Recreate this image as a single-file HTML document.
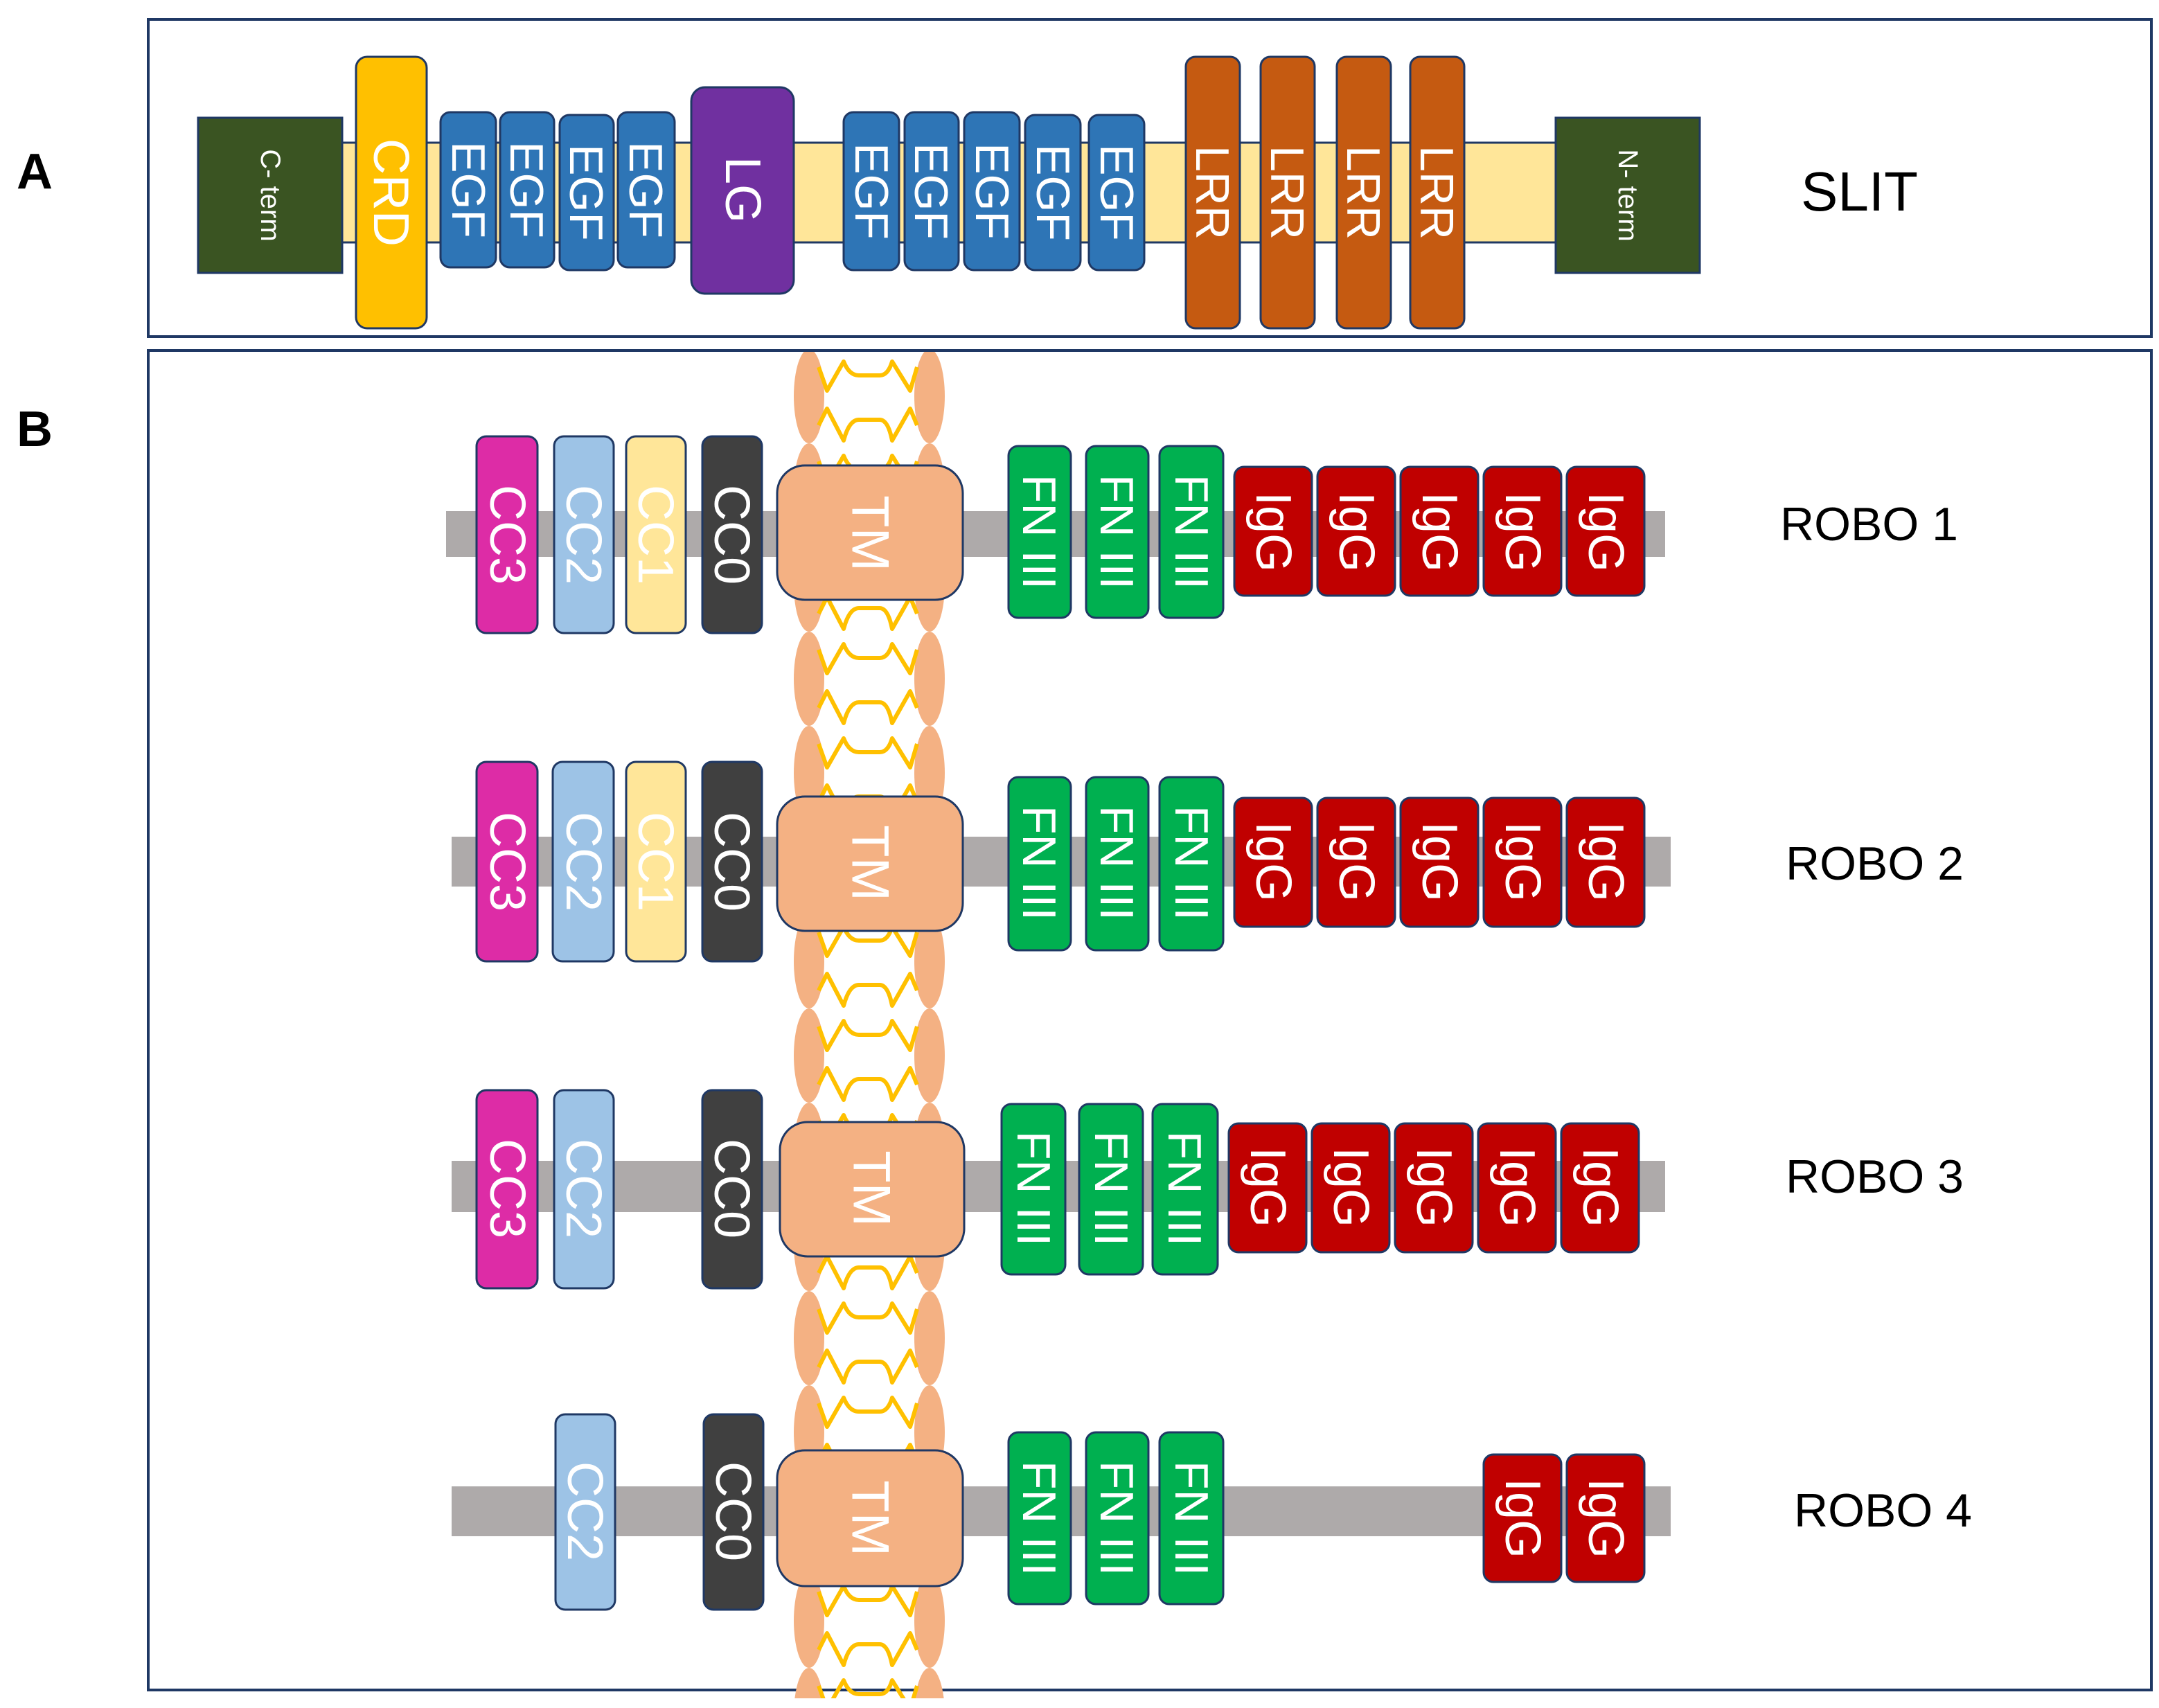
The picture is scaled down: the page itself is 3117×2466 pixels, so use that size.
<!DOCTYPE html>
<html><head><meta charset="utf-8"><style>
html,body{margin:0;padding:0;background:#fff;}
svg{display:block;}
text{font-family:"Liberation Sans",sans-serif;}
.w{fill:#fff;text-anchor:middle;dominant-baseline:central;}
</style></head><body>
<svg width="3117" height="2466" viewBox="0 0 1558.5 1233" xmlns="http://www.w3.org/2000/svg">
<defs>
<clipPath id="cp"><rect x="560" y="254" width="140" height="972"/></clipPath>
<g id="mem">
<ellipse cx="584" cy="34" rx="11" ry="34" fill="#f4b183"/>
<ellipse cx="671" cy="34" rx="11" ry="34" fill="#f4b183"/>
<path d="M591,13 L597,30 L609,9 Q613,19 620,19 L635,19 Q641,19 644,9 L657,30 L662,13" fill="none" stroke="#ffc000" stroke-width="3" stroke-linejoin="round"/>
<path d="M591,55 L597,43 L609,66 Q613,51 620,51 L635,51 Q641,51 644,66 L657,43 L662,55" fill="none" stroke="#ffc000" stroke-width="3" stroke-linejoin="round"/>
</g>
</defs>
<!-- Panel A -->
<text x="25" y="136" font-size="36" font-weight="bold" fill="#000" text-anchor="middle">A</text>
<rect x="107" y="14" width="1446" height="229" fill="#fff" stroke="#1f3864" stroke-width="2"/>
<rect x="247" y="103" width="876" height="72" fill="#ffe699" stroke="#1f3864" stroke-width="1.5"/>
<g stroke="#1f3864" stroke-width="1.5">
<rect x="143" y="85" width="104" height="112" fill="#3a5422"/>
<rect x="1123" y="85" width="104" height="112" fill="#3a5422"/>
<rect x="257" y="41" width="51" height="196" rx="8" fill="#ffc000"/>
<rect x="318" y="81" width="40" height="112" rx="7" fill="#2e75b6"/>
<rect x="361" y="81" width="39" height="112" rx="7" fill="#2e75b6"/>
<rect x="404" y="83" width="39" height="112" rx="7" fill="#2e75b6"/>
<rect x="446" y="81" width="41" height="112" rx="7" fill="#2e75b6"/>
<rect x="499" y="63" width="74" height="149" rx="10" fill="#7030a0"/>
<rect x="609" y="81" width="40" height="114" rx="7" fill="#2e75b6"/>
<rect x="653" y="81" width="39" height="114" rx="7" fill="#2e75b6"/>
<rect x="696" y="81" width="40" height="114" rx="7" fill="#2e75b6"/>
<rect x="740" y="83" width="40" height="112" rx="7" fill="#2e75b6"/>
<rect x="786" y="83" width="40" height="112" rx="7" fill="#2e75b6"/>
<rect x="856" y="41" width="39" height="196" rx="7" fill="#c55a11"/>
<rect x="910" y="41" width="39" height="196" rx="7" fill="#c55a11"/>
<rect x="965" y="41" width="39" height="196" rx="7" fill="#c55a11"/>
<rect x="1018" y="41" width="39" height="196" rx="7" fill="#c55a11"/>
</g>
<g class="w">
<text class="w" font-size="20" transform="translate(195,141) rotate(90)">C- term</text>
<text class="w" font-size="20" transform="translate(1175,141) rotate(90)">N- term</text>
<text class="w" font-size="36" transform="translate(282,139) rotate(90)">CRD</text>
<text class="w" font-size="34" transform="translate(338,137) rotate(90)">EGF</text>
<text class="w" font-size="34" transform="translate(380,137) rotate(90)">EGF</text>
<text class="w" font-size="34" transform="translate(423,139) rotate(90)">EGF</text>
<text class="w" font-size="34" transform="translate(466,137) rotate(90)">EGF</text>
<text class="w" font-size="36" transform="translate(536,137) rotate(90)">LG</text>
<text class="w" font-size="34" transform="translate(629,138) rotate(90)">EGF</text>
<text class="w" font-size="34" transform="translate(672,138) rotate(90)">EGF</text>
<text class="w" font-size="34" transform="translate(716,138) rotate(90)">EGF</text>
<text class="w" font-size="34" transform="translate(760,139) rotate(90)">EGF</text>
<text class="w" font-size="34" transform="translate(806,139) rotate(90)">EGF</text>
<text class="w" font-size="34" transform="translate(875,139) rotate(90)">LRR</text>
<text class="w" font-size="34" transform="translate(929,139) rotate(90)">LRR</text>
<text class="w" font-size="34" transform="translate(984,139) rotate(90)">LRR</text>
<text class="w" font-size="34" transform="translate(1037,139) rotate(90)">LRR</text>
</g>
<text x="1300" y="152" font-size="40" fill="#000">SLIT</text>

<!-- Panel B -->
<text x="25" y="322" font-size="36" font-weight="bold" fill="#000" text-anchor="middle">B</text>
<rect x="107" y="253" width="1446" height="967" fill="#fff" stroke="#1f3864" stroke-width="2"/>
<g clip-path="url(#cp)">
<use href="#mem" y="252"/><use href="#mem" y="320"/><use href="#mem" y="388"/><use href="#mem" y="456"/>
<use href="#mem" y="524"/><use href="#mem" y="592"/><use href="#mem" y="660"/><use href="#mem" y="728"/>
<use href="#mem" y="796"/><use href="#mem" y="864"/><use href="#mem" y="932"/><use href="#mem" y="1000"/>
<use href="#mem" y="1068"/><use href="#mem" y="1136"/><use href="#mem" y="1204"/>
</g>

<!-- backbones -->
<rect x="322" y="369" width="880" height="33" fill="#aeaaaa"/>
<rect x="326" y="604" width="880" height="36" fill="#aeaaaa"/>
<rect x="326" y="838" width="876" height="37" fill="#aeaaaa"/>
<rect x="326" y="1073" width="880" height="36" fill="#aeaaaa"/>

<g stroke="#1f3864" stroke-width="1.5">
<!-- ROBO1 -->
<rect x="344" y="315" width="44" height="142" rx="7" fill="#dd2ca6"/>
<rect x="400" y="315" width="43" height="142" rx="7" fill="#9dc3e6"/>
<rect x="452" y="315" width="43" height="142" rx="7" fill="#ffe699"/>
<rect x="507" y="315" width="43" height="142" rx="7" fill="#404040"/>
<rect x="561" y="336" width="134" height="97" rx="20" fill="#f4b183"/>
<rect x="728" y="322" width="45" height="124" rx="7" fill="#00b050"/>
<rect x="784" y="322" width="45" height="124" rx="7" fill="#00b050"/>
<rect x="837" y="322" width="46" height="124" rx="7" fill="#00b050"/>
<rect x="891" y="337" width="56" height="93" rx="7" fill="#c00000"/>
<rect x="951" y="337" width="56" height="93" rx="7" fill="#c00000"/>
<rect x="1011" y="337" width="56" height="93" rx="7" fill="#c00000"/>
<rect x="1071" y="337" width="56" height="93" rx="7" fill="#c00000"/>
<rect x="1131" y="337" width="56" height="93" rx="7" fill="#c00000"/>
<!-- ROBO2 -->
<rect x="344" y="550" width="44" height="144" rx="7" fill="#dd2ca6"/>
<rect x="399" y="550" width="44" height="144" rx="7" fill="#9dc3e6"/>
<rect x="452" y="550" width="43" height="144" rx="7" fill="#ffe699"/>
<rect x="507" y="550" width="43" height="144" rx="7" fill="#404040"/>
<rect x="561" y="575" width="134" height="97" rx="20" fill="#f4b183"/>
<rect x="728" y="561" width="45" height="125" rx="7" fill="#00b050"/>
<rect x="784" y="561" width="45" height="125" rx="7" fill="#00b050"/>
<rect x="837" y="561" width="46" height="125" rx="7" fill="#00b050"/>
<rect x="891" y="576" width="56" height="93" rx="7" fill="#c00000"/>
<rect x="951" y="576" width="56" height="93" rx="7" fill="#c00000"/>
<rect x="1011" y="576" width="56" height="93" rx="7" fill="#c00000"/>
<rect x="1071" y="576" width="56" height="93" rx="7" fill="#c00000"/>
<rect x="1131" y="576" width="56" height="93" rx="7" fill="#c00000"/>
<!-- ROBO3 -->
<rect x="344" y="787" width="44" height="143" rx="7" fill="#dd2ca6"/>
<rect x="400" y="787" width="43" height="143" rx="7" fill="#9dc3e6"/>
<rect x="507" y="787" width="43" height="143" rx="7" fill="#404040"/>
<rect x="563" y="810" width="133" height="97" rx="20" fill="#f4b183"/>
<rect x="723" y="797" width="46" height="123" rx="7" fill="#00b050"/>
<rect x="779" y="797" width="46" height="123" rx="7" fill="#00b050"/>
<rect x="832" y="797" width="47" height="123" rx="7" fill="#00b050"/>
<rect x="887" y="811" width="56" height="93" rx="7" fill="#c00000"/>
<rect x="947" y="811" width="56" height="93" rx="7" fill="#c00000"/>
<rect x="1007" y="811" width="56" height="93" rx="7" fill="#c00000"/>
<rect x="1067" y="811" width="56" height="93" rx="7" fill="#c00000"/>
<rect x="1127" y="811" width="56" height="93" rx="7" fill="#c00000"/>
<!-- ROBO4 -->
<rect x="401" y="1021" width="43" height="141" rx="7" fill="#9dc3e6"/>
<rect x="508" y="1021" width="43" height="141" rx="7" fill="#404040"/>
<rect x="561" y="1047" width="134" height="98" rx="20" fill="#f4b183"/>
<rect x="728" y="1034" width="45" height="124" rx="7" fill="#00b050"/>
<rect x="784" y="1034" width="45" height="124" rx="7" fill="#00b050"/>
<rect x="837" y="1034" width="46" height="124" rx="7" fill="#00b050"/>
<rect x="1071" y="1050" width="56" height="92" rx="7" fill="#c00000"/>
<rect x="1131" y="1050" width="56" height="92" rx="7" fill="#c00000"/>
</g>

<g font-size="36">
<text class="w" transform="translate(366,386) rotate(90)">CC3</text>
<text class="w" transform="translate(421,386) rotate(90)">CC2</text>
<text class="w" transform="translate(473,386) rotate(90)">CC1</text>
<text class="w" transform="translate(528,386) rotate(90)">CC0</text>
<text class="w" font-size="38" transform="translate(628,385) rotate(90)">TM</text>
<text class="w" font-size="34" transform="translate(750,384) rotate(90)">FN III</text>
<text class="w" font-size="34" transform="translate(806,384) rotate(90)">FN III</text>
<text class="w" font-size="34" transform="translate(860,384) rotate(90)">FN III</text>
<text class="w" transform="translate(919,384) rotate(90)">IgG</text>
<text class="w" transform="translate(979,384) rotate(90)">IgG</text>
<text class="w" transform="translate(1039,384) rotate(90)">IgG</text>
<text class="w" transform="translate(1099,384) rotate(90)">IgG</text>
<text class="w" transform="translate(1159,384) rotate(90)">IgG</text>
<text class="w" transform="translate(366,622) rotate(90)">CC3</text>
<text class="w" transform="translate(421,622) rotate(90)">CC2</text>
<text class="w" transform="translate(473,622) rotate(90)">CC1</text>
<text class="w" transform="translate(528,622) rotate(90)">CC0</text>
<text class="w" font-size="38" transform="translate(628,623) rotate(90)">TM</text>
<text class="w" font-size="34" transform="translate(750,623) rotate(90)">FN III</text>
<text class="w" font-size="34" transform="translate(806,623) rotate(90)">FN III</text>
<text class="w" font-size="34" transform="translate(860,623) rotate(90)">FN III</text>
<text class="w" transform="translate(919,622) rotate(90)">IgG</text>
<text class="w" transform="translate(979,622) rotate(90)">IgG</text>
<text class="w" transform="translate(1039,622) rotate(90)">IgG</text>
<text class="w" transform="translate(1099,622) rotate(90)">IgG</text>
<text class="w" transform="translate(1159,622) rotate(90)">IgG</text>
<text class="w" transform="translate(366,858) rotate(90)">CC3</text>
<text class="w" transform="translate(421,858) rotate(90)">CC2</text>
<text class="w" transform="translate(528,858) rotate(90)">CC0</text>
<text class="w" font-size="38" transform="translate(629,858) rotate(90)">TM</text>
<text class="w" font-size="34" transform="translate(746,858) rotate(90)">FN III</text>
<text class="w" font-size="34" transform="translate(802,858) rotate(90)">FN III</text>
<text class="w" font-size="34" transform="translate(855,858) rotate(90)">FN III</text>
<text class="w" transform="translate(915,857) rotate(90)">IgG</text>
<text class="w" transform="translate(975,857) rotate(90)">IgG</text>
<text class="w" transform="translate(1035,857) rotate(90)">IgG</text>
<text class="w" transform="translate(1095,857) rotate(90)">IgG</text>
<text class="w" transform="translate(1155,857) rotate(90)">IgG</text>
<text class="w" transform="translate(422,1091) rotate(90)">CC2</text>
<text class="w" transform="translate(529,1091) rotate(90)">CC0</text>
<text class="w" font-size="38" transform="translate(628,1096) rotate(90)">TM</text>
<text class="w" font-size="34" transform="translate(750,1096) rotate(90)">FN III</text>
<text class="w" font-size="34" transform="translate(806,1096) rotate(90)">FN III</text>
<text class="w" font-size="34" transform="translate(860,1096) rotate(90)">FN III</text>
<text class="w" transform="translate(1099,1096) rotate(90)">IgG</text>
<text class="w" transform="translate(1159,1096) rotate(90)">IgG</text>
</g>

<g font-size="34" fill="#000">
<text x="1285" y="390">ROBO 1</text>
<text x="1289" y="635">ROBO 2</text>
<text x="1289" y="861">ROBO 3</text>
<text x="1295" y="1102">ROBO 4</text>
</g>
</svg>
</body></html>
